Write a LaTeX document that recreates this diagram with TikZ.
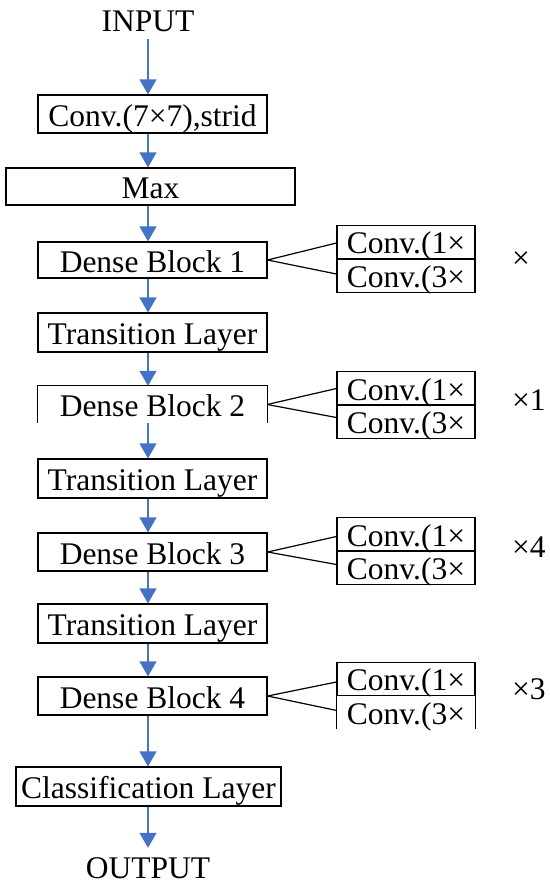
\documentclass[tikz,border=0pt]{standalone}
\usepackage{fontspec}
\setmainfont{Liberation Serif}
\usetikzlibrary{arrows.meta}
\definecolor{arrblue}{HTML}{4472C4}
\begin{document}
\begin{tikzpicture}[x=1pt,y=-1pt,
  every node/.style={font=\fontsize{31.5}{37}\selectfont, inner sep=0pt},
  blk/.style={draw, line width=1.2pt, line join=miter, minimum width=229pt, text height=26pt, text depth=2pt},
  blkopen/.style={minimum width=229pt, text height=26pt, text depth=2pt},
  side/.style={draw, line width=1.2pt, line join=miter, minimum width=138pt, minimum height=33.5pt, text height=25pt, text depth=2pt},
  sideopen/.style={minimum width=138pt, minimum height=33.5pt, text height=25pt, text depth=2pt},
  term/.style={text height=22pt, text depth=0pt},
  flow/.style={draw=arrblue, line width=1.3pt, -{Triangle[width=17pt,length=15pt]}},
  link/.style={draw=black, line width=1.2pt},
  openedge/.style={draw=black, line width=1.2pt, line join=miter},
  rep/.style={anchor=base west}
]
\useasboundingbox (0,0) rectangle (549,886);

% main column
\node[term, inner ysep=8pt] (in) at (148,20) {INPUT};
\node[blk, minimum height=38pt] (conv) at (152.5,114) {Conv.(7×7),strid};
\node[blk, minimum width=289pt, minimum height=37pt] (max) at (150.5,186.5) {Max};
\node[blk, minimum height=36pt] (db1) at (152.5,260) {Dense Block 1};
\node[blk, minimum height=39pt] (tl1) at (152.5,332.5) {Transition Layer};
\node[blkopen, minimum height=37pt] (db2) at (152.5,404.5) {Dense Block 2};
\node[blk, minimum height=39pt] (tl2) at (152.5,478.5) {Transition Layer};
\node[blk, minimum height=38pt] (db3) at (152.5,552) {Dense Block 3};
\node[blk, minimum height=39pt] (tl3) at (152.5,623.5) {Transition Layer};
\node[blk, minimum height=38pt] (db4) at (152.5,696) {Dense Block 4};
\node[blk, minimum width=265pt, minimum height=39pt] (cls) at (148.5,786.5) {Classification Layer};
\node[term] (out) at (148,867) {OUTPUT};

\draw[openedge] (db2.south west) -- (db2.north west) -- (db2.north east) -- (db2.south east);

% arrows
\draw[flow] (in.south) -- (conv.north -| in.south);
\draw[flow] (conv.south -| in.south) -- (max.north -| in.south);
\draw[flow] (max.south -| in.south) -- (db1.north -| in.south);
\draw[flow] (db1.south -| in.south) -- (tl1.north -| in.south);
\draw[flow] (tl1.south -| in.south) -- (db2.north -| in.south);
\draw[flow] (db2.south -| in.south) -- (tl2.north -| in.south);
\draw[flow] (tl2.south -| in.south) -- (db3.north -| in.south);
\draw[flow] (db3.south -| in.south) -- (tl3.north -| in.south);
\draw[flow] (tl3.south -| in.south) -- (db4.north -| in.south);
\draw[flow] (db4.south -| in.south) -- (cls.north -| in.south);
\draw[flow, shorten >=8pt] (cls.south -| in.south) -- (out.north);

% side boxes
\node[side] (u1) at (406,242) {Conv.(1×};
\node[side] (l1) at (406,276) {Conv.(3×};
\node[side] (u2) at (406,388.5) {Conv.(1×};
\node[side] (l2) at (406,421.5) {Conv.(3×};
\node[side] (u3) at (406,534.5) {Conv.(1×};
\node[side] (l3) at (406,567.5) {Conv.(3×};
\node[side] (u4) at (406,679) {Conv.(1×};
\node[sideopen] (l4) at (406,712.5) {Conv.(3×};
\draw[openedge] (l4.south west) -- (l4.north west) -- (l4.north east) -- (l4.south east);

% links
\draw[link] (db1.east) -- ([yshift=-1pt]u1.west);
\draw[link] (db1.east) -- ([yshift=2pt]l1.west);
\draw[link] (db2.east) -- ([yshift=0pt]u2.west);
\draw[link] (db2.east) -- ([yshift=4pt]l2.west);
\draw[link] (db3.east) -- ([yshift=-2pt]u3.west);
\draw[link] (db3.east) -- ([yshift=3pt]l3.west);
\draw[link] (db4.east) -- ([yshift=-3pt]u4.west);
\draw[link] (db4.east) -- ([yshift=2pt]l4.west);

% repetition labels
\node[rep] (r1) at (512,268) {×};
\node[rep] (r2) at (512,410) {×1};
\node[rep] (r3) at (512,557) {×4};
\node[rep] (r4) at (512,699) {×3};
\end{tikzpicture}
\end{document}
